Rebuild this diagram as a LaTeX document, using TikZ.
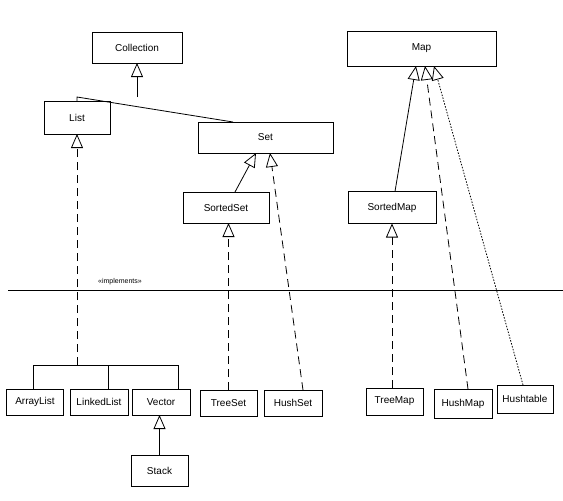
\documentclass[tikz,border=0pt]{standalone}
\usepackage{fontspec}
\setmainfont{Liberation Sans}
\usetikzlibrary{arrows.meta}
\begin{document}
\begin{tikzpicture}[x=1pt,y=-1pt,
  box/.style={draw,thick,inner sep=0pt,outer sep=0pt,font=\fontsize{10}{12}\selectfont},
  gen/.style={-{Triangle[open,length=14pt,width=12pt]}},
  sol/.style={thick},
  dsh/.style={thick,dash pattern=on 8pt off 5pt},
  dot/.style={thick,dash pattern=on 1.5pt off 1.5pt}]
\useasboundingbox (0,0) rectangle (563,501);
\node[box,minimum width=90pt,minimum height=31pt] (coll) at (137,47.5) {Collection};
\node[box,minimum width=149pt,minimum height=35pt] (map) at (421.5,48.5) {Map};
\node[box,minimum width=66pt,minimum height=33pt] (list) at (77,117.5) {List};
\node[box,minimum width=135pt,minimum height=31pt] (set) at (265.5,137.5) {Set};
\node[box,minimum width=86pt,minimum height=31pt] (sset) at (226,207.5) {SortedSet};
\node[box,minimum width=88pt,minimum height=32pt] (smap) at (392,207.5) {SortedMap};
\node[box,minimum width=57pt,minimum height=26pt] (al) at (35,402) {ArrayList};
\node[box,minimum width=58pt,minimum height=26pt] (ll) at (99,402) {LinkedList};
\node[box,minimum width=58pt,minimum height=26pt] (vec) at (161,402) {Vector};
\node[box,minimum width=57pt,minimum height=26pt] (ts) at (228.5,403) {TreeSet};
\node[box,minimum width=58pt,minimum height=26pt] (hs) at (293,403) {HushSet};
\node[box,minimum width=57pt,minimum height=31pt] (st) at (159.5,470.5) {Stack};
\node[box,minimum width=57pt,minimum height=27pt] (tm) at (394.5,401.5) {TreeMap};
\node[box,minimum width=58pt,minimum height=29pt] (hm) at (463,403.5) {HushMap};
\node[box,minimum width=56pt,minimum height=28pt] (ht) at (525,399) {Hushtable};
% separator
\coordinate (sepL) at (8,290);
\coordinate (sepR) at (563,290);
\draw[thick] (sepL) -- (sepR);
\node[font=\fontsize{7}{8}\selectfont,inner sep=0pt] (impl) at (120,282) {<<implements>>};
% Collection hierarchy
\coordinate (cj) at (137,97);
\draw[sol] (list.north) -- (list.north |- cj) -- (set.north -| 233,0 |- cj) -- (set.north -| 233,0);
\draw[sol,gen] (cj) -- (coll.south);
% List implementations
\coordinate (lj) at (77,365);
\draw[dsh,gen] (lj) -- (list.south);
\draw[sol] ([xshift=-2pt]al.north) |- (lj);
\draw[sol] ([xshift=9pt]ll.north) -- ([xshift=9pt]ll.north |- lj);
\draw[sol] ([xshift=17pt]vec.north) |- (lj);
\draw[sol,gen] (st.north) -- (st.north |- vec.south);
% Set
\draw[sol,gen] ([xshift=9pt]sset.north) -- ([xshift=-9.5pt]set.south);
\draw[dsh,gen] (ts.north) -- (ts.north |- sset.south);
\draw[dsh,gen] ([xshift=10pt]hs.north) -- ([xshift=4.5pt]set.south);
% Map
\draw[sol,gen] ([xshift=3pt]smap.north) -- ([xshift=-5.5pt]map.south);
\draw[dsh,gen] (tm.north -| smap.south) -- (smap.south);
\draw[dsh,gen] ([xshift=5pt]hm.north) -- ([xshift=3.5pt]map.south);
\draw[dot,gen] ([xshift=-2pt]ht.north) -- ([xshift=12.5pt]map.south);
\end{tikzpicture}
\end{document}
